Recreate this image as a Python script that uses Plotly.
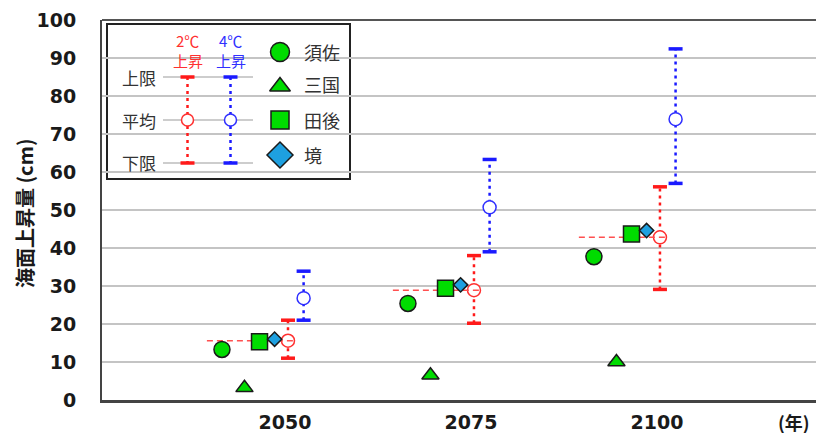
import plotly.graph_objects as go

# ---------------- data ----------------
years = ["2050", "2075", "2100"]
susa = [13.3, 25.4, 37.7]      # 須佐
mikuni = [3.2, 6.5, 10.0]      # 三国
tago = [15.3, 29.4, 43.7]      # 田後
sakai = [16.0, 30.3, 44.6]     # 境
r2_mean = [15.6, 28.9, 42.8]   # 2℃上昇 平均
r2_upper = [21.0, 38.0, 56.1]
r2_lower = [11.0, 20.2, 29.1]
r4_mean = [26.8, 50.7, 73.9]   # 4℃上昇 平均
r4_upper = [33.9, 63.3, 92.4]
r4_lower = [21.0, 39.0, 57.0]
y_ticks = [0, 10, 20, 30, 40, 50, 60, 70, 80, 90, 100]
site_names = ["須佐", "三国", "田後", "境"]

# ---------------- geometry / style ----------------
# page body has an 8px margin -> figure is drawn at (8, 8)
PAGE = 8
W, H = 824 - PAGE, 433 - PAGE
PL, PR, PT, PB = 102, 824, 20, 400          # plot area in reference pixels
ML, MR, MT, MB = PL - PAGE, 824 - PR, PT - PAGE, 433 - PB
PW, PH = PR - PL, PB - PT
idx = list(range(len(years)))
OFF = {"susa": -0.339, "mikuni": -0.218, "tago": -0.137, "sakai": -0.056,
       "r2": 0.016, "r4": 0.1}
RED = "#ff1a1a"
BLUE = "#1a1aff"
GREEN = "#00dc00"
SKY = "#1ea0e0"
EDGE = "#1a1a1a"
TXT = "#333333"
NUMFONT = dict(family="DejaVu Sans", size=19, color="#1a1a1a", weight="bold")
JP = "Noto Sans CJK JP"


def px(x):
    return (x - PL) / PW


def py(y):
    return (PB - y) / PH


def xs(off):
    return [i + off for i in idx]


def seg_x(off):
    out = []
    for i in idx:
        out += [i + off, i + off, None]
    return out


def seg_y(lo, hi):
    out = []
    for a, b in zip(lo, hi):
        out += [a, b, None]
    return out


fig = go.Figure()

# vertical dotted ranges
for key, lo, hi, col in [("r2", r2_lower, r2_upper, RED), ("r4", r4_lower, r4_upper, BLUE)]:
    fig.add_trace(go.Scatter(x=seg_x(OFF[key]), y=seg_y(lo, hi), mode="lines",
                             line=dict(color=col, width=2.5, dash="3px,4px"),
                             hoverinfo="skip", showlegend=False))
    fig.add_trace(go.Scatter(x=xs(OFF[key]) * 2, y=lo + hi, mode="markers",
                             marker=dict(symbol="line-ew", size=10, color=col,
                                         line=dict(color=col, width=3.5)),
                             hoverinfo="skip", showlegend=False))

# open mean circles
for key, m, col in [("r2", r2_mean, "#ff3030"), ("r4", r4_mean, "#3030ff")]:
    fig.add_trace(go.Scatter(x=xs(OFF[key]), y=m, mode="markers",
                             marker=dict(symbol="circle", size=13, color="white",
                                         line=dict(color=col, width=1.5)),
                             showlegend=False))

# red dashed reference line at 2℃ mean
dx, dy = [], []
for i, m in zip(idx, r2_mean):
    dx += [i - 0.42, i + 0.054, None]
    dy += [m, m, None]
fig.add_trace(go.Scatter(x=dx, y=dy, mode="lines",
                         line=dict(color="#ff5050", width=1.5, dash="6px,4px"),
                         hoverinfo="skip", showlegend=False))

# site markers
fig.add_trace(go.Scatter(x=xs(OFF["susa"]), y=susa, mode="markers", name="須佐",
                         marker=dict(symbol="circle", size=16, color=GREEN,
                                     line=dict(color=EDGE, width=1.5)), showlegend=False))
fig.add_trace(go.Scatter(x=xs(OFF["mikuni"]), y=mikuni, mode="markers", name="三国",
                         marker=dict(symbol="triangle-up", size=15, color=GREEN,
                                     line=dict(color=EDGE, width=1.5)), showlegend=False))
fig.add_trace(go.Scatter(x=xs(OFF["tago"]), y=tago, mode="markers", name="田後",
                         marker=dict(symbol="square", size=16, color=GREEN,
                                     line=dict(color=EDGE, width=1.5)), showlegend=False))
fig.add_trace(go.Scatter(x=xs(OFF["sakai"]), y=sakai, mode="markers", name="境",
                         marker=dict(symbol="diamond", size=11, color=SKY,
                                     line=dict(color=EDGE, width=1.5)), showlegend=False))

# ---------------- legend (overlay axes in reference-pixel units) ----------------
L = dict(xaxis="x2", yaxis="y2", hoverinfo="skip", showlegend=False)
lv = [77, 120, 163]
for yy in lv:
    fig.add_trace(go.Scatter(x=[163, 253], y=[yy, yy], mode="lines",
                             line=dict(color="#bdbdbd", width=1.5), **L))
for xx, col, ccol in [(187.5, RED, "#ff3030"), (230.5, BLUE, "#3030ff")]:
    fig.add_trace(go.Scatter(x=[xx, xx], y=[lv[0], lv[2]], mode="lines",
                             line=dict(color=col, width=2.5, dash="3px,4px"), **L))
    fig.add_trace(go.Scatter(x=[xx, xx], y=[lv[0], lv[2]], mode="markers",
                             marker=dict(symbol="line-ew", size=10, color=col,
                                         line=dict(color=col, width=3.5)), **L))
    fig.add_trace(go.Scatter(x=[xx], y=[lv[1]], mode="markers",
                             marker=dict(symbol="circle", size=12, color="white",
                                         line=dict(color=ccol, width=1.5)), **L))
for yy, sym, sz, col in [(52, "circle", 19, GREEN), (86.5, "triangle-up", 18, GREEN),
                         (120, "square", 18, GREEN), (155, "diamond", 20, SKY)]:
    fig.add_trace(go.Scatter(x=[280], y=[yy], mode="markers",
                             marker=dict(symbol=sym, size=sz, color=col,
                                         line=dict(color=EDGE, width=1.5)), **L))

annotations = []


def note(x, y, text, font, xanchor="center", angle=0):
    annotations.append(dict(x=px(x), y=py(y), xref="paper", yref="paper", text=text,
                            showarrow=False, xanchor=xanchor, yanchor="middle",
                            textangle=angle, font=font))


for yy, t in zip(lv, ["上限", "平均", "下限"]):
    note(139, yy, t, dict(family=JP, size=17, color=TXT))
for xx, col, t in [(187.5, "#ff3030", "2℃"), (230.5, "#3030ff", "4℃")]:
    note(xx, 41, t, dict(family=JP, size=15, color=col))
    note(xx, 60, "上昇", dict(family=JP, size=15, color=col))
for yy, t in zip([52, 84, 120, 155], site_names):
    note(302, yy, t, dict(family=JP, size=18, color=TXT), xanchor="left")

# axis title and unit
note(24, 214, "海面上昇量 (cm)", dict(family=JP, size=20, color="#1a1a1a", weight="bold"),
     angle=-90)
note(812, 422, "(年)", dict(family=JP, size=18, color="#1a1a1a", weight="bold"),
     xanchor="right")

shapes = [
    # legend frame
    dict(type="rect", xref="paper", yref="paper",
         x0=px(107), x1=px(350), y0=py(179), y1=py(24),
         line=dict(color="#222222", width=2), fillcolor="white", layer="between"),
    # top border of plot area
    dict(type="line", xref="paper", yref="paper", x0=0, x1=1, y0=1, y1=1,
         line=dict(color="#555555", width=2), layer="above"),
]

fig.update_layout(
    width=W, height=H,
    margin=dict(l=ML, r=MR, t=MT, b=MB, pad=0, autoexpand=False),
    paper_bgcolor="white", plot_bgcolor="white",
    showlegend=False,
    xaxis=dict(range=[-0.984, 2.898], tickvals=idx, ticktext=years,
               showgrid=False, zeroline=False, showline=True,
               linecolor="#444444", linewidth=2.5, ticks="",
               tickfont=NUMFONT, ticklabelstandoff=3, fixedrange=True),
    yaxis=dict(range=[0, 100], tickvals=y_ticks, showgrid=True,
               gridcolor="#c4c4c4", gridwidth=1.5, zeroline=False,
               showline=True, linecolor="#444444", linewidth=2, ticks="",
               tickfont=NUMFONT, ticklabelstandoff=20, fixedrange=True),
    xaxis2=dict(range=[PL, PR], overlaying="x", visible=False, anchor="y2",
                fixedrange=True),
    yaxis2=dict(range=[PB, PT], overlaying="y", visible=False, anchor="x2",
                fixedrange=True),
    annotations=annotations,
    shapes=shapes,
)

fig.write_html("out.html")
